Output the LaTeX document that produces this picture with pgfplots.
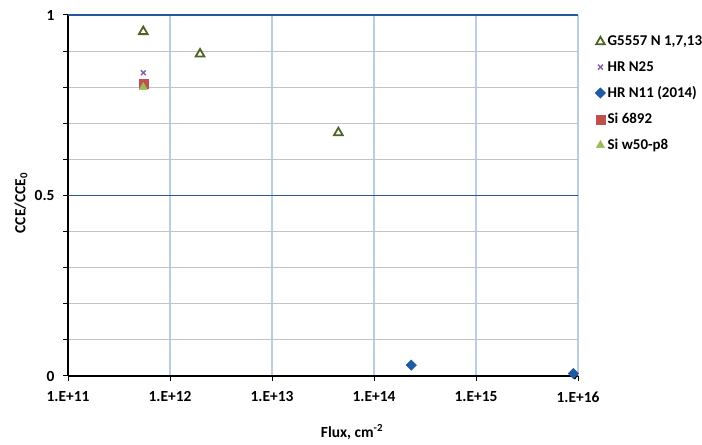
\documentclass[border=0pt]{standalone}
\usepackage{fontspec}
\setmainfont{Carlito}
\usepackage{pgfplots}
\pgfplotsset{compat=1.18}
\usetikzlibrary{arrows.meta}

\definecolor{gridblue}{RGB}{38,88,155}
\definecolor{lightgrid}{RGB}{185,205,229}
\definecolor{minorgray}{RGB}{195,195,195}
\definecolor{olivegreen}{RGB}{79,98,40}
\definecolor{purplex}{RGB}{128,100,162}
\definecolor{diamblue}{RGB}{31,90,165}
\definecolor{redsq}{RGB}{192,80,77}
\definecolor{lightgreen}{RGB}{155,187,89}

\newcommand{\lblfont}{\fontsize{15.5}{17}\selectfont\bfseries}
\newcommand{\legfont}{\fontsize{15}{17}\selectfont\bfseries}

\begin{document}
\begin{tikzpicture}
\path[use as bounding box] (0bp,0bp) rectangle (702bp,445bp);
\begin{axis}[
  at={(68bp,69bp)}, anchor=south west,
  scale only axis, width=510bp, height=361bp,
  xmode=log, xmin=1e11, xmax=1e16, ymin=0, ymax=1,
  axis x line=bottom, axis y line=left,
  x axis line style={black, line width=1.6bp, -{To[length=4bp,width=7bp]}},
  y axis line style={black, line width=1.2bp, -},
  xtick={1e11,1e12,1e13,1e14,1e15,1e16},
  xticklabels={1.E+11,1.E+12,1.E+13,1.E+14,1.E+15,1.E+16},
  xminorticks=false,
  ytick={0,0.5,1}, yticklabels={0,0.5,1},
  minor ytick={0.1,0.2,0.3,0.4,0.6,0.7,0.8,0.9},
  xmajorgrids=true, yminorgrids=true,
  major grid style={lightgrid, line width=1.2bp},
  minor grid style={minorgray, line width=0.8bp},
  tick align=outside, major tick length=5bp, minor tick length=5bp,
  tick style={black, line width=1bp},
  ticklabel style={font=\lblfont},
  xticklabel style={yshift=-7bp},
  yticklabel style={xshift=-5bp},
  clip=false,
  legend style={at={(axis description cs:1,1)}, anchor=north west,
    xshift=14bp, yshift=-17bp, draw=none, fill=none,
    font=\legfont, row sep=10bp},
  legend cell align=left,
]
% horizontal major gridlines at 0.5 and 1
\draw[gridblue, line width=1.6bp] (axis cs:1e11,0.5) -- (axis cs:1e16,0.5);
\draw[gridblue, line width=1.6bp] (axis cs:1e11,1) -- (axis cs:1e16,1);

\addplot[only marks, mark=triangle, mark size=5bp,
  mark options={olivegreen, line width=1.8bp}]
  coordinates {(5.47e11,0.954) (1.97e12,0.892) (4.47e13,0.674)};
\addlegendentry{G5557 N 1,7,13}

\addplot[only marks, mark=x, mark size=3.5bp,
  mark options={purplex, line width=1.4bp}]
  coordinates {(5.47e11,0.840)};
\addlegendentry{HR N25}

\addplot[only marks, mark=square*, mark size=3.7bp,
  mark options={diamblue, rotate=45}]
  coordinates {(2.32e14,0.030) (9.0e15,0.007)};
\addlegendentry{HR N11 (2014)}

\addplot[only marks, mark=square*, mark size=4.5bp,
  mark options={redsq}]
  coordinates {(5.47e11,0.810)};
\addlegendentry{Si 6892}

\addplot[only marks, mark=triangle*, mark size=4.8bp,
  mark options={lightgreen}]
  coordinates {(5.47e11,0.800)};
\addlegendentry{Si w50-p8}
\end{axis}
\node[rotate=90, font=\lblfont] at (21bp,242bp) {CCE/CCE\textsubscript{0}};
\node[font=\lblfont] at (352bp,13bp) {Flux, cm\textsuperscript{-2}};
\end{tikzpicture}
\end{document}
